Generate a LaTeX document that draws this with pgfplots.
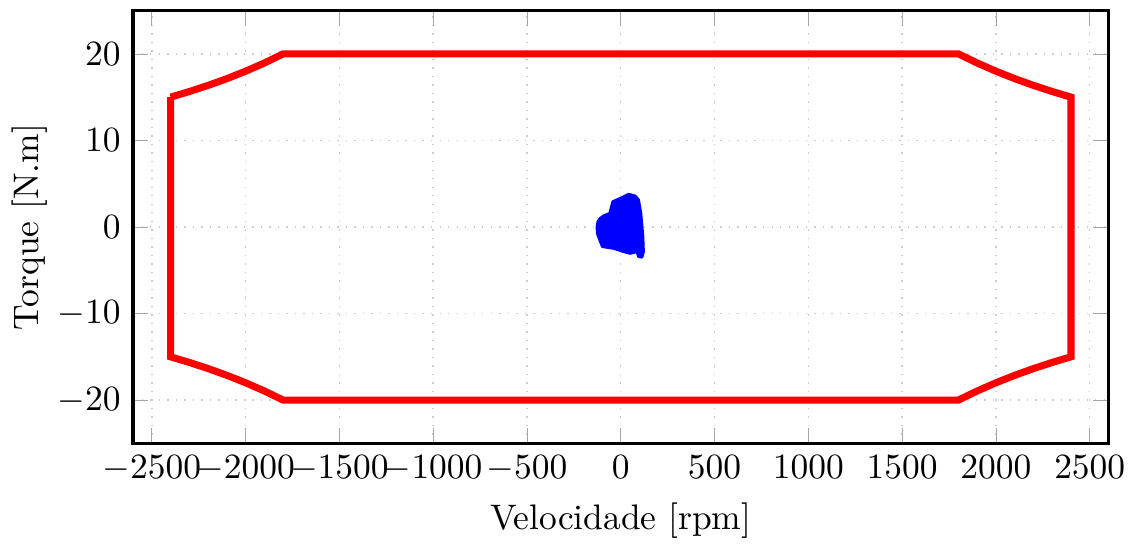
\documentclass[border=0pt]{standalone}
\usepackage{pgfplots}
\pgfplotsset{compat=1.18}
\begin{document}
\begin{tikzpicture}
\begin{axis}[
    width=275pt, height=122pt,
    scale only axis,
    xmin=-2600, xmax=2600,
    ymin=-25, ymax=25,
    xtick={-2500,-2000,...,2500},
    ytick={-20,-10,0,10,20},
    xlabel={Velocidade [rpm]},
    ylabel={Torque [N.m]},
    ylabel shift=-4pt,
    xlabel shift=-1pt,
    xmajorgrids, ymajorgrids,
    major grid style={dotted, gray!40},
    axis line style={line width=0.9pt},
    tick style={gray!70},
    scaled x ticks=false,
    xticklabel style={/pgf/number format/.cd, set thousands separator={}},
]
% limite de operacao
\addplot[red, line width=2pt] coordinates {
    (-2400,15) (-2400,-15)
    (-2300,-15.65) (-2200,-16.36) (-2100,-17.14) (-2000,-18) (-1900,-18.95) (-1800,-20)
    (1800,-20)
    (1900,-18.95) (2000,-18) (2100,-17.14) (2200,-16.36) (2300,-15.65) (2400,-15)
    (2400,15)
    (2300,15.65) (2200,16.36) (2100,17.14) (2000,18) (1900,18.95) (1800,20)
    (-1800,20)
    (-1900,18.95) (-2000,18) (-2100,17.14) (-2200,16.36) (-2300,15.65) (-2400,15)
};
% pontos de operacao
\addplot[blue, fill=blue, line width=0.8pt, line join=round] coordinates {
    (42,3.78) (-3,3.3) (-42,2.93) (-59,1.58) (-90,1.3) (-110,1.0) (-122,0.6)
    (-127,0.0) (-124,-0.8) (-112,-1.5) (-98,-2.27) (-38,-2.47) (15,-2.85)
    (50,-3.05) (86,-2.85) (95,-3.43) (113,-3.5) (121,-2.85) (118,-1.12)
    (107,1.58) (95,3.12) (77,3.58) (42,3.78)
} -- cycle;
\end{axis}
\path (current axis.north) ++(0,3pt);
\end{tikzpicture}
\end{document}
